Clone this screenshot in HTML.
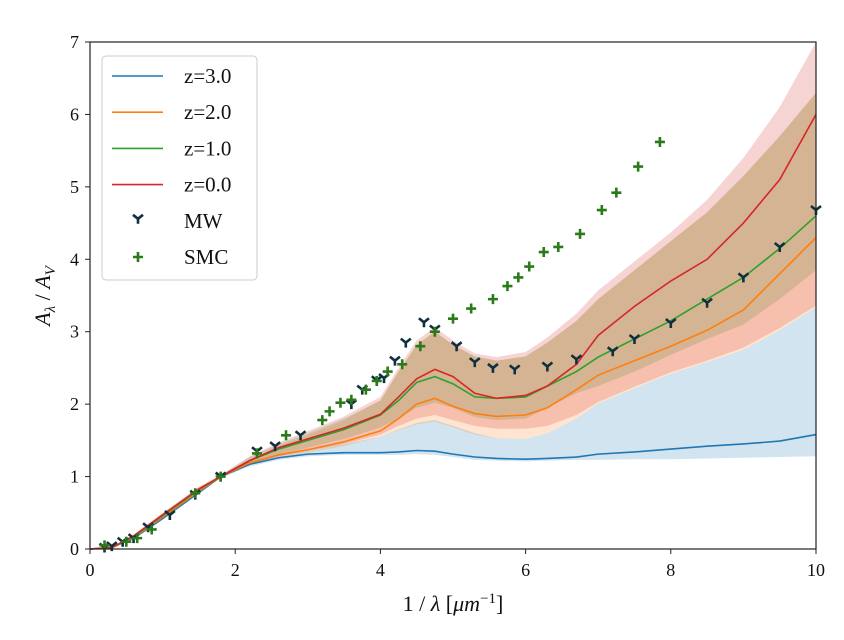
<!DOCTYPE html>
<html><head><meta charset="utf-8"><style>
html,body{margin:0;padding:0;background:#fff;}
svg{display:block;font-family:"Liberation Serif","DejaVu Serif",serif;}
</style></head><body>
<svg id="chart" width="844" height="640" viewBox="0 0 844 640" xmlns="http://www.w3.org/2000/svg">
<g id="bands"></g>
<g id="lines"></g>
<g id="points"></g>
<g id="axes"></g>
<g id="legend"></g>
</svg>
<script>
const xs   = [0,0.3,0.6,1,1.5,1.8,2.2,2.6,3,3.5,4,4.25,4.5,4.75,5,5.3,5.6,6,6.3,6.7,7,7.5,8,8.5,9,9.5,10];
const z3   = [0,0.02,0.15,0.42,0.78,1.0,1.17,1.26,1.31,1.33,1.33,1.34,1.36,1.35,1.31,1.27,1.25,1.24,1.25,1.27,1.31,1.34,1.38,1.42,1.45,1.49,1.58];
const z3lo = [0,0.01,0.13,0.40,0.76,0.98,1.14,1.23,1.28,1.30,1.30,1.30,1.31,1.30,1.27,1.23,1.22,1.21,1.22,1.23,1.23,1.24,1.24,1.25,1.26,1.27,1.28];
const z3hi = [0,0.03,0.17,0.44,0.80,1.02,1.19,1.30,1.38,1.45,1.55,1.65,1.74,1.78,1.70,1.60,1.53,1.52,1.60,1.80,2.01,2.22,2.42,2.58,2.75,3.02,3.34];
const z2   = [0,0.02,0.16,0.44,0.80,1.0,1.19,1.30,1.37,1.48,1.63,1.80,2.0,2.08,1.97,1.87,1.83,1.85,1.95,2.2,2.4,2.6,2.8,3.02,3.3,3.8,4.3];
const z2lo = [0,0.01,0.14,0.41,0.77,0.98,1.16,1.26,1.33,1.42,1.55,1.64,1.72,1.76,1.68,1.58,1.53,1.52,1.60,1.80,2.01,2.22,2.42,2.58,2.75,3.02,3.34];
const z2hi = [0,0.03,0.18,0.47,0.83,1.02,1.24,1.42,1.57,1.78,2.05,2.45,2.82,3.00,2.82,2.66,2.60,2.66,2.85,3.15,3.45,3.85,4.25,4.65,5.15,5.70,6.3];
const z1   = [0,0.02,0.17,0.46,0.82,1.0,1.22,1.38,1.50,1.65,1.85,2.05,2.30,2.38,2.28,2.10,2.08,2.10,2.25,2.45,2.65,2.90,3.15,3.45,3.75,4.15,4.6];
const z1lo = [0,0.01,0.15,0.43,0.79,0.98,1.17,1.30,1.40,1.52,1.68,1.80,1.95,2.02,1.95,1.82,1.78,1.80,1.95,2.15,2.25,2.45,2.68,2.9,3.1,3.45,3.85];
const z1hi = [0,0.03,0.19,0.49,0.85,1.02,1.27,1.45,1.60,1.80,2.05,2.45,2.82,3.00,2.82,2.66,2.60,2.66,2.85,3.15,3.45,3.85,4.25,4.65,5.15,5.70,6.3];
const z0   = [0,0.02,0.18,0.47,0.83,1.0,1.22,1.40,1.52,1.67,1.86,2.10,2.35,2.48,2.38,2.15,2.08,2.12,2.25,2.55,2.95,3.35,3.70,4.00,4.50,5.10,6.0];
const z0lo = [0,0.01,0.15,0.44,0.80,0.98,1.17,1.28,1.36,1.45,1.58,1.70,1.80,1.85,1.78,1.70,1.66,1.66,1.70,1.85,2.03,2.24,2.44,2.60,2.78,3.05,3.36];
const z0hi = [0,0.03,0.20,0.50,0.86,1.02,1.28,1.47,1.63,1.83,2.10,2.50,2.88,3.06,2.88,2.70,2.65,2.72,2.92,3.25,3.57,3.97,4.37,4.82,5.40,6.10,7.0];
const mwX  = [0.2,0.3,0.45,0.6,0.8,1.1,1.45,1.8,2.3,2.55,2.9,3.6,3.75,3.95,4.05,4.2,4.35,4.6,4.75,5.05,5.3,5.55,5.85,6.3,6.7,7.2,7.5,8,8.5,9,9.5,10];
const mwY  = [0.02,0.04,0.1,0.15,0.3,0.47,0.75,1.0,1.35,1.42,1.57,2.0,2.2,2.33,2.36,2.6,2.85,3.13,3.03,2.8,2.58,2.5,2.48,2.52,2.62,2.73,2.9,3.12,3.4,3.75,4.17,4.68];
const smcX = [0.2,0.5,0.65,0.85,1.45,1.8,2.3,2.7,3.2,3.3,3.45,3.6,3.8,3.95,4.1,4.3,4.55,4.75,5.0,5.25,5.55,5.75,5.9,6.05,6.25,6.45,6.75,7.05,7.25,7.55,7.85];
const smcY = [0.05,0.1,0.15,0.27,0.77,1.0,1.32,1.57,1.78,1.9,2.02,2.06,2.2,2.32,2.45,2.55,2.8,3.0,3.18,3.32,3.45,3.63,3.75,3.9,4.1,4.17,4.35,4.68,4.92,5.28,5.62];
const xTicks = [0,2,4,6,8,10];
const yTicks = [0,1,2,3,4,5,6,7];

const NS="http://www.w3.org/2000/svg";
const X0=90,X1=816,Y0=549,Y1=42;
function sx(v){return X0+(X1-X0)*v/10;}
function sy(v){return Y0-(Y0-Y1)*v/7;}
function mk(tag,attrs,parent){const e=document.createElementNS(NS,tag);for(const k in attrs)e.setAttribute(k,attrs[k]);parent.appendChild(e);return e;}

const bands=document.getElementById('bands'),lines=document.getElementById('lines'),pts=document.getElementById('points'),axes=document.getElementById('axes'),leg=document.getElementById('legend');
const series=[
 {n:'z3',y:z3,lo:z3lo,hi:z3hi,c:'#1f77b4'},
 {n:'z2',y:z2,lo:z2lo,hi:z2hi,c:'#ff7f0e'},
 {n:'z1',y:z1,lo:z1lo,hi:z1hi,c:'#2ca02c'},
 {n:'z0',y:z0,lo:z0lo,hi:z0hi,c:'#d62728'}];
series.forEach(s=>{
  let d='M'+xs.map((x,i)=>sx(x)+','+sy(s.hi[i])).join('L');
  d+='L'+xs.map((x,i)=>[x,i]).reverse().map(([x,i])=>sx(x)+','+sy(s.lo[i])).join('L')+'Z';
  const b=mk('path',{d:d,fill:s.c,'fill-opacity':0.2,stroke:'none'},bands);
  
  
});
series.forEach(s=>{
  const l=mk('polyline',{points:xs.map((x,i)=>sx(x)+','+sy(s.y[i])).join(' '),fill:'none',stroke:s.c,'stroke-width':1.6},lines);
  
  
});
function tri(x,y,g){
  return mk('path',{d:`M${x},${y}L${x},${y+5}M${x},${y}L${x-5},${y-4}M${x},${y}L${x+5},${y-4}`,stroke:'#10303f','stroke-width':2.6,fill:'none'},g);
}
function plus(x,y,g){
  return mk('path',{d:`M${x-5},${y}L${x+5},${y}M${x},${y-5}L${x},${y+5}`,stroke:'#2a7a1a','stroke-width':2.6,fill:'none'},g);
}
mwX.forEach((x,i)=>{const e=tri(sx(x),sy(mwY[i]),pts);
  
  });
smcX.forEach((x,i)=>{const e=plus(sx(x),sy(smcY[i]),pts);
  
  });

const fr=mk('rect',{x:X0,y:Y1,width:X1-X0,height:Y0-Y1,fill:'none',stroke:'#222','stroke-width':1.2},axes);


xTicks.forEach(t=>{
  mk('line',{x1:sx(t),x2:sx(t),y1:Y0,y2:Y0+5,stroke:'#222','stroke-width':1},axes);
  const tx=mk('text',{x:sx(t),y:Y0+27,'text-anchor':'middle','font-size':18,fill:'#111'},axes);
  tx.textContent=t;
  
  
});
yTicks.forEach(t=>{
  mk('line',{x1:X0-5,x2:X0,y1:sy(t),y2:sy(t),stroke:'#222','stroke-width':1},axes);
  const tx=mk('text',{x:X0-11,y:sy(t)+6,'text-anchor':'end','font-size':18,fill:'#111'},axes);
  tx.textContent=t;
  
  
});
const xt=mk('text',{x:453,y:611,'text-anchor':'middle','font-size':22,fill:'#111'},axes);
xt.innerHTML='1 / <tspan font-style="italic">λ</tspan>  [<tspan font-style="italic">μm</tspan><tspan font-size="15" dy="-8">−1</tspan><tspan dy="8">]</tspan>';


const yt=mk('text',{x:0,y:0,'text-anchor':'middle','font-size':22,fill:'#111',transform:'translate(50,296) rotate(-90)'},axes);
yt.innerHTML='<tspan font-style="italic">A</tspan><tspan font-size="15" dy="5" font-style="italic">λ</tspan><tspan dy="-5"> / </tspan><tspan font-style="italic">A</tspan><tspan font-size="15" dy="5" font-style="italic">V</tspan>';



const lb=mk('rect',{x:102,y:56,width:155,height:224,rx:4,fill:'#fff','fill-opacity':0.85,stroke:'#ccc','stroke-width':1},leg);


const labs=['z=3.0','z=2.0','z=1.0','z=0.0','MW','SMC'];
labs.forEach((t,i)=>{
  const y=76+i*36.2;
  let m;
  if(i<4){m=mk('line',{x1:112,x2:163,y1:y,y2:y,stroke:series[i].c,'stroke-width':1.6},leg);}
  else if(i==4){m=tri(138,y-2,leg);}
  else {m=plus(138,y,leg);}
  
  
  const tx=mk('text',{x:184,y:y+7,'font-size':21,fill:'#111'},leg);
  tx.textContent=t;
  
  
});
</script>
</body></html>
